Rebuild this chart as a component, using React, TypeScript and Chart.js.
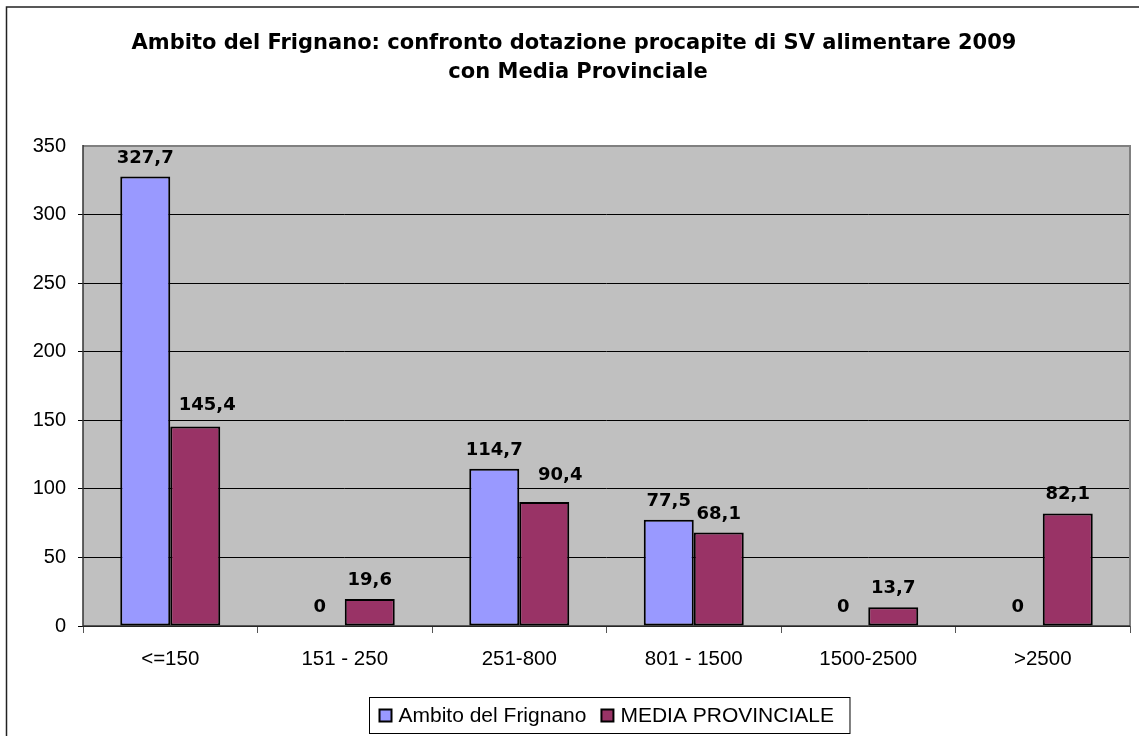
import React, { useEffect, useRef } from 'react';
import { Chart, registerables } from 'chart.js';
Chart.register(...registerables);

const categories = ['<=150', '151 - 250', '251-800', '801 - 1500', '1500-2500', '>2500'];
const ambitoValues = [327.7, 0, 114.7, 77.5, 0, 0];
const mediaValues = [145.4, 19.6, 90.4, 68.1, 13.7, 82.1];
const seriesNames = ['Ambito del Frignano', 'MEDIA PROVINCIALE'];
const seriesColors = ['#9999FF', '#993366'];
const titleLines = [
  'Ambito del Frignano: confronto dotazione procapite di SV alimentare 2009',
  'con Media Provinciale',
];
const yMin = 0;
const yMax = 350;
const yStep = 50;
// label nudges (dx, dy) used by the original to avoid overlapping labels
const labelNudge = [
  [[0, 0], [0, 0], [0, 0], [0, 0], [0, 0], [0, 0]],
  [[12, -3], [0, 0], [16, -8], [0, 0], [0, 0], [0, 0]],
];

const fmt = (v: number) => String(v).replace('.', ',');

const decorPlugin = {
  id: 'decor',
  beforeDraw(chart: any) {
    const { ctx, chartArea: a } = chart;
    ctx.save();
    ctx.fillStyle = '#ffffff';
    ctx.fillRect(0, 0, chart.width, chart.height);
    ctx.fillStyle = '#C0C0C0';
    ctx.fillRect(a.left, a.top, a.right - a.left, a.bottom - a.top);
    ctx.restore();
  },
  beforeDatasetsDraw(chart: any) {
    const { ctx, chartArea: a } = chart;
    ctx.save();
    ctx.strokeStyle = '#808080';
    ctx.lineWidth = 2;
    ctx.beginPath();
    ctx.moveTo(a.left, a.top);
    ctx.lineTo(a.right, a.top);
    ctx.lineTo(a.right, a.bottom);
    ctx.stroke();
    ctx.strokeStyle = '#333333';
    ctx.lineWidth = 1.5;
    ctx.beginPath();
    ctx.moveTo(a.left, a.top - 1);
    ctx.lineTo(a.left, a.bottom);
    ctx.lineTo(a.right, a.bottom);
    ctx.stroke();
    ctx.restore();
  },
  afterDraw(chart: any) {
    const { ctx } = chart;
    ctx.save();
    // outer frame
    ctx.strokeStyle = '#222';
    ctx.lineWidth = 1.5;
    ctx.strokeRect(6.5, 7, 1300, 900);
    // title
    ctx.fillStyle = '#000';
    ctx.font = 'bold 21px "DejaVu Sans"';
    ctx.textAlign = 'center';
    ctx.textBaseline = 'middle';
    ctx.fillText(titleLines[0], 574, 44);
    ctx.fillText(titleLines[1], 578, 73);
    // data labels
    ctx.font = 'bold 18px "DejaVu Sans"';
    ctx.textBaseline = 'alphabetic';
    chart.data.datasets.forEach((ds: any, di: number) => {
      const meta = chart.getDatasetMeta(di);
      meta.data.forEach((bar: any, i: number) => {
        const v = ds.data[i];
        const [dx, dy] = labelNudge[di][i];
        ctx.fillText(fmt(v), bar.x + dx, bar.y - 14 + dy);
      });
    });
    // legend
    ctx.font = '21px "Liberation Sans"';
    const sq = 12;
    const w0 = ctx.measureText(seriesNames[0]).width;
    const w1 = ctx.measureText(seriesNames[1]).width;
    const padL = 10, gap = 7, between = 15, padR = 16;
    const total = padL + sq + gap + w0 + between + sq + gap + w1 + padR;
    const bx = 369.5;
    const by = 697.5, bh = 36;
    ctx.fillStyle = '#fff';
    ctx.fillRect(bx, by, total, bh);
    ctx.strokeStyle = '#000';
    ctx.lineWidth = 1;
    ctx.strokeRect(bx, by, total, bh);
    const cy = by + bh / 2;
    let x = bx + padL;
    [w0, w1].forEach((w, i) => {
      ctx.fillStyle = seriesColors[i];
      ctx.fillRect(x, cy - sq / 2, sq, sq);
      ctx.strokeStyle = '#000';
      ctx.lineWidth = 2;
      ctx.strokeRect(x, cy - sq / 2, sq, sq);
      x += sq + gap;
      ctx.fillStyle = '#000';
      ctx.textAlign = 'left';
      ctx.textBaseline = 'middle';
      ctx.fillText(seriesNames[i], x, cy + 1);
      x += w + between;
    });
    ctx.restore();
  },
};

export default function App() {
  const ref = useRef<HTMLCanvasElement>(null);
  useEffect(() => {
    document.body.style.margin = '0';
    const chart = new Chart(ref.current as HTMLCanvasElement, {
      type: 'bar',
      data: {
        labels: categories,
        datasets: [
          {
            label: seriesNames[0],
            data: ambitoValues,
            backgroundColor: seriesColors[0],
            borderColor: '#000',
            borderWidth: (c: any) => (c.raw === 0 ? 0 : 2),
            borderSkipped: false,
            categoryPercentage: 0.573,
            barPercentage: 1,
          },
          {
            label: seriesNames[1],
            data: mediaValues,
            backgroundColor: seriesColors[1],
            borderColor: '#000',
            borderWidth: (c: any) => (c.raw === 0 ? 0 : 2),
            borderSkipped: false,
            categoryPercentage: 0.573,
            barPercentage: 1,
          },
        ],
      },
      options: {
        animation: false,
        responsive: false,
        layout: { padding: { left: 0, right: 9, top: 146, bottom: 0 } },
        plugins: {
          legend: { display: false },
          title: { display: false },
          tooltip: { enabled: false },
        },
        scales: {
          x: {
            offset: true,
            afterFit: (s: any) => { s.height = 110; },
            grid: {
              offset: true,
              drawOnChartArea: false,
              drawTicks: true,
              tickLength: 7,
              color: '#555',
            },
            border: { display: false },
            ticks: {
              color: '#000',
              font: { family: '"Liberation Sans"', size: 20.5 },
              padding: 14,
              maxRotation: 0,
            },
          },
          y: {
            min: yMin,
            max: yMax,
            afterFit: (s: any) => { s.width = 83; },
            grid: {
              color: (c: any) => (c.tick && c.tick.value === yMax ? 'rgba(0,0,0,0)' : '#000'),
              tickLength: 5,
              lineWidth: 1,
            },
            border: { display: false },
            ticks: {
              stepSize: yStep,
              color: '#000',
              font: { family: '"Liberation Sans"', size: 20 },
              padding: 12,
            },
          },
        },
      },
      plugins: [decorPlugin],
    } as any);
    return () => chart.destroy();
  }, []);
  return (
    <div style={{ width: 1139, height: 736 }}>
      <canvas ref={ref} width={1139} height={736} style={{ display: 'block' }} />
    </div>
  );
}
